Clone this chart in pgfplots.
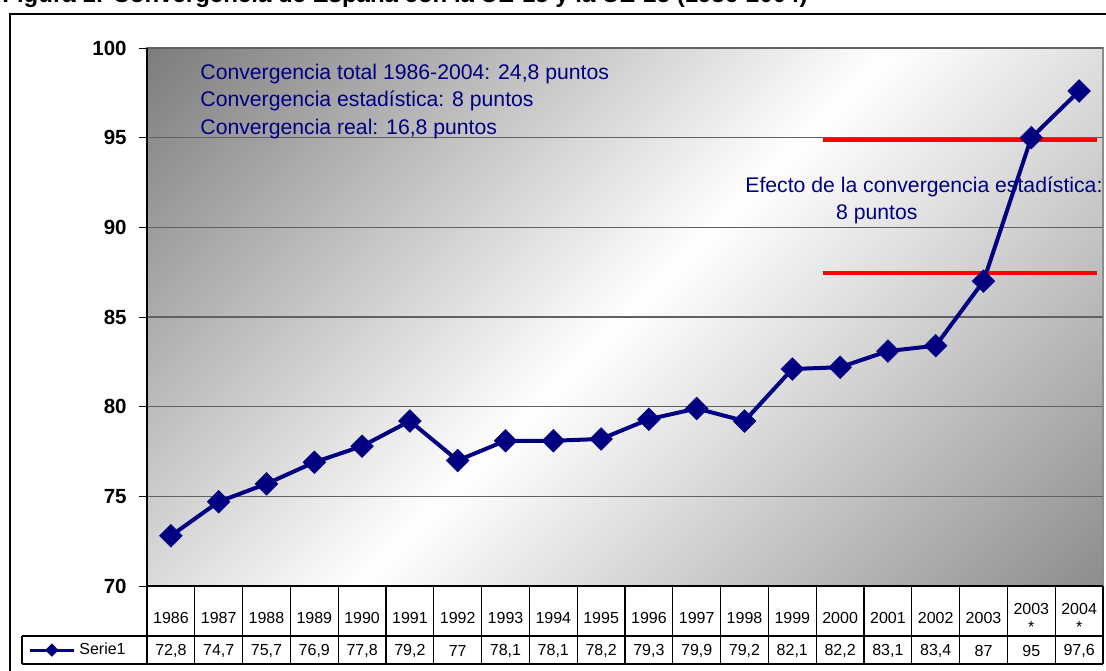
\documentclass[border=0pt]{standalone}
\usepackage{pgfplots}
\usepackage{pgfplotstable}
\pgfplotsset{compat=1.18}
\usepackage{fontspec}
\setmainfont{Liberation Sans}

\definecolor{navy}{HTML}{000080}
\definecolor{bgdark}{HTML}{474747}
\definecolor{bgdark2}{HTML}{5E5E5E}
% diagonal background: dark top-left, white through the middle, grey bottom-right
\pgfdeclareverticalshading{plotbg}{100bp}{color(0bp)=(bgdark2); color(50bp)=(white); color(100bp)=(bgdark)}

% idx = column of the data table (1986 ... 2004*)
\pgfplotstableread{
idx val
0  72.8
1  74.7
2  75.7
3  76.9
4  77.8
5  79.2
6  77
7  78.1
8  78.1
9  78.2
10 79.3
11 79.9
12 79.2
13 82.1
14 82.2
15 83.1
16 83.4
17 87
18 95
19 97.6
}\serieuno

\begin{document}
\begin{tikzpicture}
    % page = 1106x670 px, 1px = 0.5pt
    \path[use as bounding box, clip] (0pt,0pt) rectangle (553pt,-335pt);

    % title, cut off at the top of the page
    \node[anchor=base west, inner sep=0pt, font=\fontsize{12}{14}\selectfont\bfseries]
        at (1pt,-1pt) {Figura 1: Convergencia de España con la UE-15 y la UE-25 (1986-2004)};

    \begin{axis}[%
        name=ax,
        at={(73.5pt,-293pt)},
        anchor=south west,
        scale only axis,
        width=478pt,
        height=269pt,
        xmin=-0.5, xmax=19.5,
        ymin=70, ymax=100,
        clip=false,
        axis background/.style={shading=plotbg, shading angle=45, draw=black!45, line width=0.6pt},
        axis x line*=bottom,
        axis y line*=left,
        axis line style={-},
        x axis line style={black, line width=1pt},
        y axis line style={black, line width=0.8pt},
        ytick={70,75,...,100},
        ymajorgrids,
        grid style={black!62, line width=0.6pt},
        tick align=outside,
        major tick length=4pt,
        ytick style={black, line width=0.5pt},
        yticklabel style={font=\fontsize{10.25}{12}\selectfont\bfseries, inner sep=0pt, xshift=-6pt},
        /pgf/number format/assume math mode=true,
        xtick={0,...,19},
        xticklabels={1986,1987,1988,1989,1990,1991,1992,1993,1994,1995,1996,1997,1998,1999,2000,2001,2002,2003,{2003\\*},{2004\\*}},
        xtick style={draw=none},
        xticklabel style={anchor=center, yshift=-12pt, align=center, inner sep=0pt,
            font=\fontsize{8}{9}\selectfont},
        extra x ticks={0,...,19},
        extra x tick labels={{72,8},{74,7},{75,7},{76,9},{77,8},{79,2},{77},{78,1},{78,1},{78,2},{79,3},{79,9},{79,2},{82,1},{82,2},{83,1},{83,4},{87},{95},{97,6}},
        extra x tick style={grid=none, xticklabel style={yshift=-16.5pt}},
        legend cell align=left,
        legend style={at={(axis description cs:-0.1245,-0.119)}, anchor=west,
            draw=none, fill=none, inner sep=0pt,
            font=\fontsize{8}{9.6}\selectfont,
            /tikz/every even column/.append style={column sep=2pt}},
        legend image code/.code={%
            \draw[mark repeat=2, mark phase=2, #1] plot coordinates {(0pt,0pt) (11pt,0pt) (22pt,0pt)};},
        legend image post style={mark size=2.2pt, line width=1.5pt},
    ]
        % efecto de la convergencia estadistica
        \addplot[red, line width=2pt, forget plot] coordinates {(13.64,94.85) (19.37,94.85)};
        \addplot[red, line width=2pt, forget plot] coordinates {(13.64,87.45) (19.37,87.45)};

        \addplot[navy, line width=2pt, mark=square*, mark size=4pt,
                 mark options={rotate=45, fill=navy, draw=navy, line width=0.3pt}]
            table[x=idx, y=val] {\serieuno};
        \addlegendentry{Serie1}

        \node[anchor=west, align=left, inner sep=0pt, text=navy,
              font=\fontsize{10.6}{13.75}\selectfont] at (axis cs:0.61,97.04)
            {Convergencia total 1986-2004: 24,8 puntos\\Convergencia estadística: 8 puntos\\Convergencia real: 16,8 puntos};
        \node[anchor=west, inner sep=0pt, text=navy, font=\fontsize{10.6}{12}\selectfont]
            at (axis cs:12.01,92.25) {Efecto de la convergencia estadística:};
        \node[anchor=west, inner sep=0pt, text=navy, font=\fontsize{10.6}{12}\selectfont]
            at (axis cs:13.91,90.74) {8 puntos};
    \end{axis}

    % data table grid and outer frame, in pixel units
    \begin{scope}[x=0.5pt, y=-0.5pt, line width=0.6pt]
        \foreach \k in {0,...,20} \draw (147+47.8*\k,586) -- (147+47.8*\k,664);
        \draw (22,636) -- (1103,636);
        \draw (22,664) -- (1103,664);
        \draw (22,636) -- (22,664);
        \draw[line width=1.2pt] (10,680) -- (10,14) -- (1120,14);
    \end{scope}
\end{tikzpicture}
\end{document}
